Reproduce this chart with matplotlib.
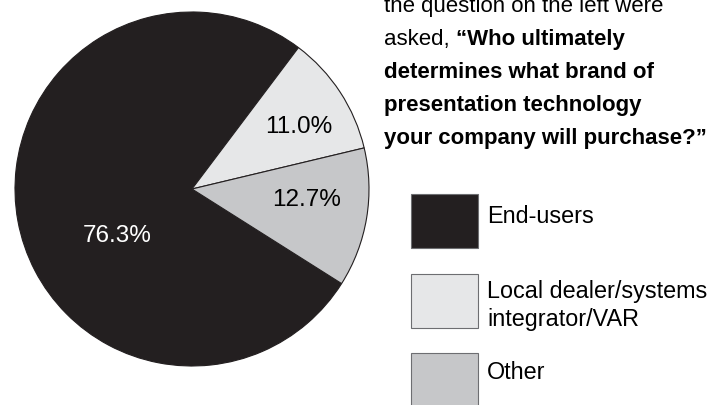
import numpy as np
import matplotlib
matplotlib.use('Agg')
import matplotlib.pyplot as plt
from matplotlib.patches import Rectangle

plt.rcParams['font.family'] = ['Liberation Sans', 'DejaVu Sans']

# data
categories = ['End-users', 'Local dealer/systems\nintegrator/VAR', 'Other']
shares = [76.3, 11.0, 12.7]
pct_labels = ['76.3%', '11.0%', '12.7%']
colors = ['#231f20', '#e6e7e8', '#c6c7c9']
pct_colors = ['white', 'black', 'black']

question_lines = [
    ('the question on the left were', None),
    ('asked, ', '\u201cWho ultimately'),
    (None, 'determines what brand of'),
    (None, 'presentation technology'),
    (None, 'your company will purchase?\u201d'),
]

W, H = 728, 405
fig = plt.figure(figsize=(W / 100, H / 100), dpi=100)


def fx(x):
    return x / W


def fy(y):
    return 1 - y / H


# pie
cx, cy, r = 192, 189, 177
ax = fig.add_axes([fx(cx - r), fy(cy + r), 2 * r / W, 2 * r / H])
wedges, _ = ax.pie(shares, colors=colors, startangle=-32.3, counterclock=False,
                   radius=1, wedgeprops=dict(linewidth=0.8, edgecolor='#231f20'))
ax.set_xlim(-1, 1)
ax.set_ylim(-1, 1)
ax.set_aspect('equal')
ax.axis('off')

label_r = [0.50, 0.70, 0.65]
label_shift = [22, -3, 4]
for w, lab, col, lr, sh in zip(wedges, pct_labels, pct_colors, label_r, label_shift):
    mid = np.deg2rad((w.theta1 + w.theta2) / 2 + sh)
    ax.text(lr * np.cos(mid), lr * np.sin(mid), lab, color=col, fontsize=17.5,
            ha='center', va='center')

# question text
renderer = fig.canvas.get_renderer()
x0 = 384
for i, (reg, bold) in enumerate(question_lines):
    yb = 12 + 33 * i
    x = fx(x0)
    if reg:
        t = fig.text(x, fy(yb), reg, fontsize=16, va='baseline', ha='left')
        bb = t.get_window_extent(renderer)
        x = bb.x1 / W
    if bold:
        fig.text(x, fy(yb), bold, fontsize=16, fontweight='bold',
                 va='baseline', ha='left')

# legend (baseline of the last text line, measured from box top)
box_x, box_w, box_h = 411, 67, 54
box_tops = [194, 274, 353]
text_base = [29, 52, 26]
for cat, col, top, tb in zip(categories, colors, box_tops, text_base):
    fig.add_artist(Rectangle((fx(box_x), fy(top + box_h)), box_w / W, box_h / H,
                             facecolor=col, edgecolor='#6d6e71', linewidth=0.8,
                             transform=fig.transFigure))
    fig.text(fx(487), fy(top + tb), cat, fontsize=16.8,
             va='baseline', ha='left', linespacing=1.29)

fig.savefig('out.png', dpi=100)
